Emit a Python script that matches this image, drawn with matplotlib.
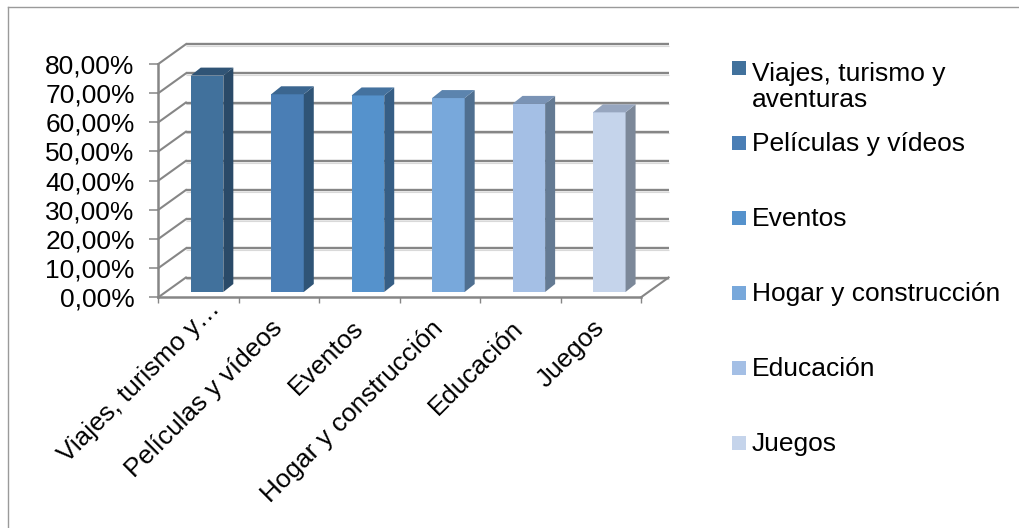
import matplotlib
matplotlib.use("Agg")
import matplotlib.pyplot as plt
from matplotlib.lines import Line2D
from matplotlib.patches import Rectangle, Polygon
from matplotlib.transforms import Affine2D
from matplotlib.ticker import FixedLocator

categories = ["Viajes, turismo y…", "Películas y vídeos", "Eventos",
              "Hogar y construcción", "Educación", "Juegos"]
legend_labels = ["Viajes, turismo y\naventuras", "Películas y vídeos", "Eventos",
                 "Hogar y construcción", "Educación", "Juegos"]
values = [74.2, 67.8, 67.4, 66.5, 64.5, 61.6]
y_ticks = [0, 10, 20, 30, 40, 50, 60, 70, 80]
y_tick_labels = ["0,00%", "10,00%", "20,00%", "30,00%", "40,00%",
                 "50,00%", "60,00%", "70,00%", "80,00%"]

front_colors = ["#41719C", "#4A7EB5", "#5592CC", "#78A8DB", "#A4BFE5", "#C5D4EB"]
side_colors = ["#2A4A68", "#2F5476", "#365E85", "#4F6F90", "#647A93", "#7C8899"]
top_colors = ["#305476", "#3B6690", "#44729F", "#5C84AE", "#7A93B5", "#97A6BF"]

W, H = 1020, 528
GRID = "#868686"
plt.rcParams["font.family"] = ["Liberation Sans", "DejaVu Sans"]
fig = plt.figure(figsize=(W / 100, H / 100), dpi=100, facecolor="white")

# axes = front plane of the 3-D box, in pixels
L, R, T, B = 158.3, 641.0, 64.0, 297.3
ax = fig.add_axes([L / W, 1 - B / H, (R - L) / W, (B - T) / H])
ax.set_xlim(0, 6)
ax.set_ylim(0, 80)
ax.patch.set_visible(False)
for name in ("top", "right"):
    ax.spines[name].set_visible(False)
for name in ("left", "bottom"):
    ax.spines[name].set_color(GRID)
    ax.spines[name].set_linewidth(1.8)

ax.set_yticks(y_ticks, labels=y_tick_labels, fontsize=19.0, color="#000000")
ax.tick_params(axis="y", length=6.5, width=1.1, color=GRID, pad=10.5)
ax.set_xticks(range(7), labels=[""] * 7)
ax.tick_params(axis="x", which="major", length=4.5, width=1.0, color=GRID)
ax.xaxis.set_minor_locator(FixedLocator([i + 0.5 for i in range(6)]))
ax.set_xticks([i + 0.5 for i in range(6)], labels=categories, minor=True)
ax.tick_params(axis="x", which="minor", length=0, pad=4)
label_shifts = [(9, 6), (-9, -13), (-8, -13), (-9, -13), (-10, -13), (-9, -13)]
for lab, (sx, sy) in zip(ax.get_xticklabels(minor=True), label_shifts):
    lab.set(rotation=45, ha="right", va="top", rotation_mode="anchor",
            fontsize=18.8, color="#000000")
    lab.set_transform(lab.get_transform() + Affine2D().translate(sx, sy))

# depth shifts, display pixels (y up)
WALL = (27.6, 19.8)
BASE = (8.5, 5.3)
BAR_D = (10.0, 8.0)
wall = ax.transData + Affine2D().translate(*WALL)
wall_shadow = ax.transData + Affine2D().translate(WALL[0], WALL[1] - 1.8)
base = ax.transData + Affine2D().translate(BASE[0], BASE[1])
bar_back = ax.transData + Affine2D().translate(BASE[0] + BAR_D[0], BASE[1] + BAR_D[1])

for v in y_ticks:
    ax.plot([0, 6], [v, v], transform=wall_shadow, color="#D9D9D9", lw=0.8,
            clip_on=False, solid_capstyle="butt", zorder=1)
    ax.plot([0, 6], [v, v], transform=wall, color=GRID, lw=1.7, clip_on=False,
            solid_capstyle="butt", zorder=1.1)
    p0 = ax.transData.transform((0, v))
    ax.plot([p0[0], p0[0] + WALL[0]], [p0[1], p0[1] + WALL[1]],
            transform=None, color=GRID, lw=1.5, clip_on=False, zorder=1)
p1 = ax.transData.transform((6, 0))
ax.plot([p1[0], p1[0] + WALL[0]], [p1[1], p1[1] + WALL[1]],
        transform=None, color=GRID, lw=1.5, clip_on=False, zorder=1)

BAR_W = 32.6 / ((R - L) / 6)
for i, v in enumerate(values):
    c = i + 0.5
    ax.bar(c, v, width=BAR_W, color=front_colors[i], transform=base,
           clip_on=False, zorder=3, linewidth=0)
    x0, x1 = c - BAR_W / 2, c + BAR_W / 2
    f = base.transform([(x0, 0), (x1, 0), (x1, v), (x0, v)])
    b = bar_back.transform([(x0, 0), (x1, 0), (x1, v), (x0, v)])
    ax.add_patch(Polygon([f[1], b[1], b[2], f[2]], closed=True, transform=None,
                         facecolor=side_colors[i], linewidth=0, clip_on=False, zorder=3))
    ax.add_patch(Polygon([f[3], f[2], b[2], b[3]], closed=True, transform=None,
                         facecolor=top_colors[i], linewidth=0, clip_on=False, zorder=3))

# legend
square_bottoms = [75, 150, 225, 300, 375, 450]
text_baselines = [107, 151, 226, 301, 376, 451]
for lbl, col, ys, yt in zip(legend_labels, front_colors, square_bottoms, text_baselines):
    fig.add_artist(Rectangle((732 / W, 1 - ys / H), 14 / W, 14 / H,
                             transform=fig.transFigure, facecolor=col, linewidth=0))
    fig.text(752 / W, 1 - yt / H, lbl, fontsize=19.0, color="#000000",
             ha="left", va="baseline", linespacing=1.12)

# chart frame: only top and left edges show
fig.add_artist(Line2D([8.5 / W, 8.5 / W], [0, 1 - 6.5 / H], transform=fig.transFigure,
                      color="#9A9A9A", lw=1.0))
fig.add_artist(Line2D([8.5 / W, 1], [1 - 6.5 / H, 1 - 6.5 / H], transform=fig.transFigure,
                      color="#9A9A9A", lw=1.0))
fig.savefig("out.png", dpi=100, facecolor="white")
